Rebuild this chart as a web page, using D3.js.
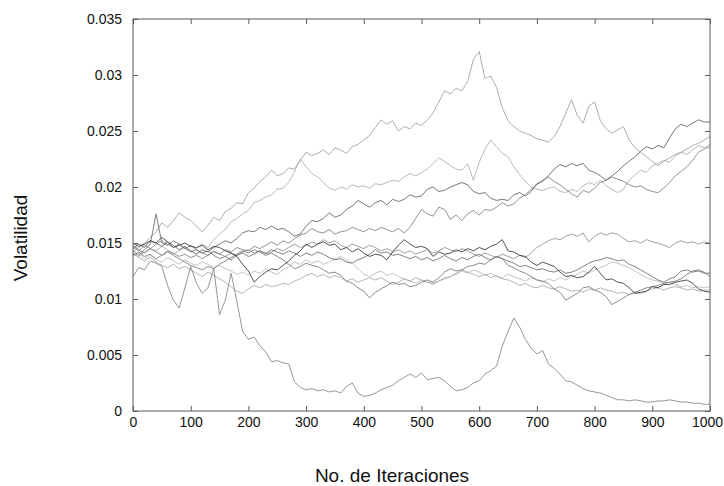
<!DOCTYPE html>
<html>
<head>
<meta charset="utf-8">
<script src="https://cdn.jsdelivr.net/npm/d3@7"></script>
<style>
  body { margin: 0; background: #fff; }
  text { font-family: "Liberation Sans", Arial, sans-serif; }
</style>
</head>
<body>
<svg id="chart" width="724" height="486"></svg>
<script>
// Iteration index shared by every simulated path (sampled every 10 iterations)
const iterations = d3.range(0, 1001, 10);

// Simulated volatility paths
const pathA = [
  .0142,.0146,.0150,.0155,.0160,.0168,.0164,.0170,.0177,.0173,
  .0170,.0165,.0160,.0166,.0173,.0170,.0178,.0181,.0186,.0185,
  .0195,.0199,.0205,.0209,.0215,.0210,.0212,.0217,.0216,.0224,
  .0231,.0228,.0230,.0233,.0229,.0235,.0233,.0230,.0236,.0238,
  .0242,.0246,.0253,.0260,.0256,.0259,.0250,.0254,.0252,.0257,
  .0255,.0260,.0266,.0276,.0286,.0283,.0288,.0286,.0294,.0314,
  .0321,.0297,.0299,.0289,.0271,.0259,.0254,.0250,.0248,.0246,
  .0243,.0242,.0240,.0245,.0254,.0266,.0278,.0264,.0257,.0272,
  .0276,.0259,.0252,.0248,.0251,.0254,.0242,.0235,.0231,.0227,
  .0223,.0219,.0223,.0226,.0229,.0231,.0234,.0237,.0239,.0242,
  .0245
];
const pathB = [
  .0140,.0138,.0142,.0145,.0143,.0147,.0144,.0140,.0143,.0146,
  .0142,.0145,.0149,.0146,.0153,.0158,.0162,.0169,.0172,.0176,
  .0179,.0186,.0188,.0191,.0193,.0198,.0199,.0204,.0214,.0225,
  .0218,.0212,.0209,.0204,.0199,.0197,.0200,.0198,.0202,.0200,
  .0201,.0199,.0203,.0202,.0204,.0206,.0205,.0209,.0212,.0210,
  .0213,.0216,.0221,.0226,.0223,.0219,.0216,.0215,.0221,.0206,
  .0222,.0234,.0242,.0236,.0230,.0227,.0218,.0211,.0205,.0200,
  .0198,.0197,.0199,.0200,.0196,.0195,.0198,.0196,.0201,.0204,
  .0202,.0206,.0201,.0198,.0195,.0198,.0206,.0211,.0215,.0213,
  .0219,.0221,.0224,.0222,.0228,.0231,.0229,.0233,.0237,.0235,
  .0238
];
const pathC = [
  .0145,.0149,.0146,.0152,.0150,.0147,.0151,.0148,.0144,.0147,
  .0143,.0140,.0144,.0142,.0146,.0149,.0152,.0150,.0154,.0159,
  .0161,.0160,.0164,.0162,.0165,.0162,.0163,.0160,.0156,.0158,
  .0165,.0170,.0169,.0172,.0177,.0173,.0175,.0180,.0183,.0188,
  .0185,.0182,.0186,.0188,.0184,.0189,.0187,.0189,.0193,.0191,
  .0192,.0198,.0200,.0196,.0197,.0200,.0202,.0204,.0202,.0196,
  .0194,.0195,.0190,.0188,.0189,.0188,.0193,.0195,.0192,.0196,
  .0203,.0205,.0210,.0216,.0220,.0218,.0221,.0219,.0221,.0215,
  .0213,.0210,.0206,.0210,.0214,.0219,.0223,.0227,.0232,.0236,
  .0234,.0237,.0235,.0244,.0252,.0256,.0254,.0257,.0260,.0258,
  .0258
];
const pathD = [
  .0139,.0142,.0138,.0140,.0136,.0139,.0143,.0141,.0138,.0140,
  .0137,.0139,.0136,.0139,.0143,.0140,.0144,.0142,.0146,.0144,
  .0143,.0147,.0145,.0148,.0151,.0148,.0152,.0150,.0154,.0157,
  .0159,.0163,.0160,.0159,.0162,.0158,.0160,.0161,.0164,.0162,
  .0160,.0163,.0161,.0164,.0162,.0160,.0163,.0159,.0164,.0172,
  .0180,.0176,.0174,.0182,.0180,.0171,.0175,.0170,.0176,.0179,
  .0175,.0180,.0179,.0182,.0186,.0183,.0185,.0190,.0193,.0198,
  .0202,.0206,.0209,.0205,.0202,.0198,.0194,.0191,.0197,.0195,
  .0199,.0204,.0206,.0209,.0207,.0205,.0202,.0200,.0201,.0198,
  .0196,.0195,.0199,.0204,.0210,.0214,.0218,.0224,.0231,.0234,
  .0236
];
const pathE = [
  .0146,.0143,.0148,.0145,.0149,.0152,.0149,.0146,.0149,.0145,
  .0142,.0144,.0141,.0139,.0142,.0140,.0138,.0141,.0139,.0142,
  .0144,.0141,.0143,.0140,.0142,.0145,.0143,.0146,.0149,.0146,
  .0148,.0151,.0149,.0153,.0150,.0152,.0148,.0146,.0149,.0147,
  .0145,.0148,.0146,.0143,.0145,.0142,.0144,.0141,.0143,.0140,
  .0142,.0144,.0141,.0143,.0146,.0144,.0142,.0145,.0143,.0140,
  .0138,.0141,.0139,.0137,.0140,.0138,.0136,.0139,.0137,.0141,
  .0146,.0149,.0152,.0154,.0153,.0156,.0158,.0156,.0159,.0151,
  .0156,.0159,.0157,.0159,.0158,.0154,.0151,.0152,.0150,.0153,
  .0151,.0150,.0148,.0146,.0150,.0152,.0150,.0151,.0149,.0151,
  .0150
];
const pathF = [
  .0150,.0147,.0149,.0152,.0150,.0155,.0151,.0146,.0148,.0150,
  .0147,.0146,.0148,.0144,.0147,.0146,.0143,.0141,.0138,.0131,
  .0125,.0115,.0120,.0124,.0127,.0126,.0130,.0134,.0139,.0143,
  .0149,.0146,.0149,.0151,.0148,.0149,.0144,.0146,.0142,.0145,
  .0141,.0138,.0140,.0139,.0135,.0142,.0148,.0153,.0149,.0146,
  .0147,.0145,.0138,.0142,.0140,.0141,.0144,.0142,.0145,.0143,
  .0146,.0144,.0147,.0149,.0153,.0143,.0142,.0139,.0138,.0133,
  .0130,.0133,.0131,.0129,.0124,.0120,.0121,.0119,.0120,.0124,
  .0129,.0123,.0117,.0118,.0115,.0114,.0110,.0105,.0106,.0107,
  .0111,.0110,.0113,.0113,.0115,.0116,.0117,.0114,.0109,.0107,
  .0106
];
const pathG = [
  .0143,.0139,.0144,.0149,.0176,.0150,.0148,.0152,.0149,.0145,
  .0148,.0144,.0141,.0143,.0139,.0136,.0138,.0135,.0139,.0141,
  .0138,.0140,.0143,.0141,.0144,.0142,.0140,.0143,.0141,.0138,
  .0141,.0139,.0142,.0140,.0137,.0135,.0136,.0133,.0132,.0135,
  .0137,.0140,.0144,.0141,.0142,.0139,.0140,.0138,.0136,.0138,
  .0135,.0137,.0134,.0136,.0139,.0136,.0134,.0137,.0135,.0138,
  .0140,.0137,.0135,.0138,.0136,.0134,.0132,.0129,.0130,.0128,
  .0126,.0127,.0125,.0124,.0126,.0123,.0124,.0126,.0129,.0132,
  .0134,.0135,.0137,.0136,.0134,.0135,.0131,.0129,.0126,.0123,
  .0120,.0117,.0115,.0118,.0120,.0125,.0126,.0124,.0125,.0123,
  .0123
];
const pathH = [
  .0138,.0141,.0136,.0139,.0135,.0133,.0137,.0134,.0131,.0135,
  .0132,.0130,.0133,.0131,.0128,.0130,.0127,.0125,.0122,.0124,
  .0121,.0125,.0123,.0127,.0124,.0122,.0126,.0129,.0133,.0131,
  .0135,.0132,.0134,.0131,.0133,.0136,.0138,.0135,.0132,.0127,
  .0122,.0120,.0123,.0125,.0121,.0123,.0120,.0118,.0116,.0114,
  .0117,.0115,.0113,.0116,.0119,.0120,.0122,.0125,.0123,.0126,
  .0124,.0121,.0123,.0120,.0119,.0122,.0120,.0118,.0116,.0119,
  .0117,.0115,.0118,.0116,.0119,.0117,.0120,.0122,.0125,.0123,
  .0126,.0128,.0130,.0133,.0132,.0130,.0128,.0125,.0122,.0119,
  .0117,.0116,.0114,.0115,.0113,.0111,.0112,.0110,.0111,.0110,
  .0111
];
const pathI = [
  .0148,.0144,.0141,.0145,.0142,.0139,.0142,.0139,.0136,.0133,
  .0130,.0128,.0126,.0129,.0127,.0131,.0134,.0137,.0140,.0143,
  .0141,.0144,.0142,.0139,.0141,.0138,.0135,.0131,.0127,.0129,
  .0132,.0130,.0129,.0126,.0123,.0124,.0121,.0116,.0114,.0110,
  .0107,.0101,.0106,.0109,.0112,.0115,.0113,.0114,.0111,.0112,
  .0115,.0117,.0115,.0119,.0124,.0127,.0125,.0126,.0129,.0130,
  .0132,.0131,.0135,.0138,.0136,.0130,.0128,.0125,.0123,.0120,
  .0117,.0116,.0114,.0109,.0106,.0099,.0102,.0105,.0110,.0111,
  .0108,.0106,.0102,.0095,.0098,.0101,.0104,.0106,.0108,.0110,
  .0111,.0112,.0114,.0115,.0116,.0118,.0122,.0125,.0126,.0124,
  .0120
];
const pathJ = [
  .0141,.0137,.0134,.0137,.0133,.0130,.0128,.0131,.0127,.0129,
  .0126,.0123,.0120,.0124,.0121,.0118,.0115,.0111,.0107,.0105,
  .0109,.0112,.0110,.0113,.0111,.0112,.0114,.0113,.0116,.0118,
  .0121,.0123,.0120,.0122,.0119,.0121,.0119,.0116,.0118,.0115,
  .0117,.0119,.0117,.0119,.0116,.0113,.0115,.0118,.0116,.0119,
  .0117,.0115,.0114,.0116,.0118,.0120,.0123,.0126,.0124,.0122,
  .0120,.0122,.0119,.0121,.0118,.0117,.0115,.0112,.0114,.0111,
  .0110,.0112,.0110,.0109,.0111,.0109,.0107,.0108,.0106,.0109,
  .0108,.0110,.0108,.0107,.0105,.0106,.0104,.0106,.0105,.0107,
  .0109,.0110,.0108,.0110,.0111,.0110,.0108,.0109,.0107,.0108,
  .0108
];
const pathK = [
  .0120,.0128,.0126,.0134,.0132,.0129,.0112,.0099,.0092,.0110,
  .0129,.0114,.0105,.0110,.0127,.0086,.0099,.0123,.0098,.0071,
  .0064,.0066,.0058,.0053,.0044,.0045,.0043,.0042,.0026,.0021,
  .0019,.0020,.0018,.0019,.0017,.0018,.0016,.0022,.0025,.0016,
  .0013,.0014,.0016,.0019,.0021,.0023,.0027,.0030,.0033,.0030,
  .0034,.0028,.0029,.0030,.0027,.0022,.0018,.0019,.0021,.0025,
  .0027,.0033,.0036,.0040,.0058,.0071,.0083,.0075,.0064,.0056,
  .0051,.0054,.0042,.0038,.0033,.0027,.0026,.0023,.0020,.0018,
  .0017,.0016,.0014,.0012,.0010,.0010,.0009,.0010,.0009,.0008,
  .0008,.0009,.0009,.0010,.0009,.0008,.0008,.0007,.0007,.0006,
  .0006
];

const xTicks = [0, 100, 200, 300, 400, 500, 600, 700, 800, 900, 1000];
const yTicks = [0, 0.005, 0.01, 0.015, 0.02, 0.025, 0.03, 0.035];
const yTickLabels = ["0", "0.005", "0.01", "0.015", "0.02", "0.025", "0.03", "0.035"];

// Drawing order: light paths first, darker ones on top
const paths = [
  { values: pathH, color: "#b8b8b8" },
  { values: pathB, color: "#acacac" },
  { values: pathJ, color: "#a6a6a6" },
  { values: pathA, color: "#9e9e9e" },
  { values: pathE, color: "#8e8e8e" },
  { values: pathK, color: "#838383" },
  { values: pathD, color: "#7e7e7e" },
  { values: pathI, color: "#767676" },
  { values: pathG, color: "#6c6c6c" },
  { values: pathC, color: "#5e5e5e" },
  { values: pathF, color: "#333333" }
];

const svg = d3.select("#chart");
const plotLeft = 133, plotRight = 710, plotTop = 19, plotBottom = 411;

const x = d3.scaleLinear().domain([0, 1000]).range([plotLeft, plotRight]);
const y = d3.scaleLinear().domain([0, 0.035]).range([plotBottom, plotTop]);

const line = d3.line()
  .x((d, i) => x(iterations[i]))
  .y(d => y(d));

const plot = svg.append("g");
paths.forEach(p => {
  plot.append("path")
    .datum(p.values)
    .attr("d", line)
    .attr("fill", "none")
    .attr("stroke", p.color)
    .attr("stroke-width", 0.85)
    .attr("stroke-linejoin", "round");
});

// Frame
svg.append("rect")
  .attr("x", plotLeft).attr("y", plotTop)
  .attr("width", plotRight - plotLeft).attr("height", plotBottom - plotTop)
  .attr("fill", "none").attr("stroke", "#5a5a5a").attr("stroke-width", 1);

function styleAxis(g) {
  g.select(".domain").remove();
  g.selectAll(".tick line").attr("stroke", "#5a5a5a");
  g.selectAll(".tick text").attr("fill", "#111").style("font-size", "14px")
    .style("font-family", '"Liberation Sans", Arial, sans-serif');
}

svg.append("g")
  .attr("transform", `translate(0,${plotBottom})`)
  .call(d3.axisBottom(x).tickValues(xTicks).tickFormat(d3.format("d"))
    .tickSizeInner(-5).tickSizeOuter(0).tickPadding(6))
  .call(styleAxis)
  // keep the last label inside the page
  .call(g => g.selectAll(".tick text").filter(d => d === 1000).attr("dx", -3));

svg.append("g")
  .attr("transform", `translate(0,${plotTop})`)
  .call(d3.axisTop(x).tickValues(xTicks).tickFormat("")
    .tickSizeInner(-5).tickSizeOuter(0))
  .call(styleAxis);

svg.append("g")
  .attr("transform", `translate(${plotLeft},0)`)
  .call(d3.axisLeft(y).tickValues(yTicks).tickFormat((d, i) => yTickLabels[i])
    .tickSizeInner(-5).tickSizeOuter(0).tickPadding(11))
  .call(styleAxis);

svg.append("g")
  .attr("transform", `translate(${plotRight},0)`)
  .call(d3.axisRight(y).tickValues(yTicks).tickFormat("")
    .tickSizeInner(-5).tickSizeOuter(0))
  .call(styleAxis);

// Axis titles
svg.append("text")
  .attr("x", 392).attr("y", 482)
  .attr("text-anchor", "middle")
  .attr("fill", "#111")
  .style("font-size", "19px")
  .text("No. de Iteraciones");

svg.append("text")
  .attr("transform", "translate(27,238) rotate(-90)")
  .attr("text-anchor", "middle")
  .attr("fill", "#111")
  .style("font-size", "19px")
  .text("Volatilidad");
</script>
</body>
</html>
